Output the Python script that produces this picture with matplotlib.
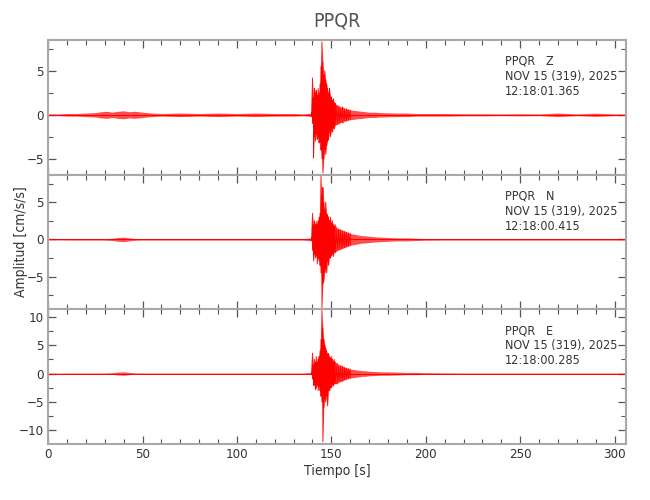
"""Three-component accelerogram for station PPQR (Z, N, E), stacked panels."""

import numpy as np
import matplotlib
matplotlib.use("Agg")
import matplotlib.pyplot as plt
from matplotlib.ticker import MultipleLocator

plt.rcParams["font.family"] = ["DejaVu Sans"]
plt.rcParams["font.stretch"] = "condensed"

STATION = "PPQR"
COMPONENTS = ["Z", "N", "E"]
DATES = ["NOV 15 (319), 2025"] * 3
START_TIMES = ["12:18:01.365", "12:18:00.415", "12:18:00.285"]

# knot times (s): quiet part before the event, the strong-motion part, coda
T_PRE = [0, 5, 10, 15, 20, 25, 28, 31, 34, 37, 40, 43, 46, 50, 55, 60, 70, 80,
         90, 100, 110, 120, 130, 135, 139.5]
T_EVENT = [140.0, 140.5, 141.0, 141.5, 142.0, 142.5, 143.0, 143.5, 144.0, 144.5,
           145.0, 145.5, 146.0, 146.5, 147.0, 147.5, 148.0, 148.5, 149.0, 149.5,
           150.0, 150.5, 151.0, 151.5, 152.0]
T_CODA = [153, 154, 155, 156, 157, 158, 159, 160, 162, 164, 166, 168, 170, 173,
          176, 180, 185, 190, 195, 200, 210, 220, 230, 240, 250, 260, 270, 280,
          290, 300, 306]

# peak amplitudes (cm/s/s)
Z_PRE = [0.1, 0.1, 0.15, 0.15, 0.2, 0.25, 0.35, 0.4, 0.3, 0.4, 0.45, 0.35, 0.4,
         0.3, 0.2, 0.15, 0.2, 0.15, 0.2, 0.15, 0.2, 0.15, 0.15, 0.1, 0.2]
Z_HI = [4.2, 2.0, 3.0, 2.5, 2.8, 2.2, 3.0, 2.4, 3.5, 5.5, 8.3, 6.0, 4.5, 5.0,
        4.0, 3.5, 3.0, 2.5, 3.0, 2.2, 2.0, 1.6, 1.8, 1.4, 1.3]
Z_LO = [-1.0, -4.9, -2.5, -3.0, -2.2, -2.8, -2.5, -3.2, -3.0, -4.0, -5.0, -6.6,
        -5.0, -4.0, -4.5, -3.5, -3.0, -2.8, -2.0, -2.5, -1.8, -2.0, -1.5, -1.6,
        -1.2]
Z_CODA = [1.1, 1.0, 0.85, 0.9, 0.7, 0.7, 0.6, 0.55, 0.5, 0.45, 0.4, 0.35, 0.3,
          0.3, 0.25, 0.22, 0.2, 0.2, 0.15, 0.15, 0.15, 0.12, 0.12, 0.1, 0.12,
          0.1, 0.2, 0.1, 0.18, 0.1, 0.1]

N_PRE = [0.08, 0.08, 0.1, 0.1, 0.1, 0.1, 0.1, 0.12, 0.15, 0.25, 0.3, 0.2, 0.12,
         0.1, 0.1, 0.1, 0.1, 0.1, 0.1, 0.1, 0.1, 0.1, 0.1, 0.1, 0.2]
N_HI = [3.5, 2.0, 2.5, 2.0, 2.4, 2.0, 2.5, 3.0, 3.5, 8.5, 6.0, 7.0, 5.0, 4.0,
        5.0, 3.5, 3.3, 3.0, 2.5, 3.0, 2.2, 2.5, 2.0, 1.8, 2.0]
N_LO = [-1.5, -2.9, -2.0, -2.5, -2.2, -3.3, -2.5, -2.8, -3.5, -4.5, -9.2, -6.0,
        -5.6, -4.5, -4.0, -4.5, -3.0, -3.5, -2.5, -2.5, -2.2, -2.0, -2.3, -1.7,
        -1.8]
N_CODA = [1.5, 1.4, 1.3, 1.2, 1.1, 1.0, 0.9, 0.8, 0.7, 0.6, 0.5, 0.48, 0.42,
          0.35, 0.3, 0.25, 0.2, 0.2, 0.15, 0.12, 0.1, 0.1, 0.1, 0.1, 0.1, 0.1,
          0.1, 0.1, 0.1, 0.1, 0.1]

E_PRE = [0.08, 0.08, 0.1, 0.1, 0.1, 0.1, 0.1, 0.12, 0.15, 0.25, 0.3, 0.2, 0.12,
         0.1, 0.1, 0.1, 0.1, 0.1, 0.1, 0.1, 0.1, 0.1, 0.1, 0.1, 0.2]
E_HI = [3.6, 1.5, 2.5, 2.0, 3.0, 2.0, 2.5, 3.0, 4.0, 6.0, 11.2, 8.0, 6.0, 5.0,
        4.5, 4.0, 3.5, 3.5, 3.0, 2.8, 3.0, 2.5, 2.2, 2.5, 2.0]
E_LO = [-1.0, -2.1, -2.0, -2.8, -2.5, -2.0, -3.0, -2.2, -3.0, -4.0, -5.0, -12.0,
        -6.0, -4.5, -5.0, -4.0, -5.7, -3.0, -3.0, -2.5, -2.5, -2.0, -2.2, -1.8,
        -1.8]
E_CODA = [1.8, 1.5, 1.4, 1.3, 1.1, 1.0, 0.9, 0.8, 0.7, 0.6, 0.5, 0.48, 0.4,
          0.35, 0.3, 0.3, 0.25, 0.2, 0.2, 0.15, 0.12, 0.1, 0.1, 0.1, 0.1, 0.1,
          0.1, 0.1, 0.1, 0.1, 0.1]

TRACES = [(Z_PRE, Z_HI, Z_LO, Z_CODA),
          (N_PRE, N_HI, N_LO, N_CODA),
          (E_PRE, E_HI, E_LO, E_CODA)]
YLIMS = [(-6.8, 8.5), (-9.4, 8.7), (-12.4, 11.3)]

GRAY = "#a8a8a8"
INK = "#333333"

fig, axes = plt.subplots(3, 1, figsize=(6.5, 5.0), dpi=100, sharex=True)
fig.subplots_adjust(left=0.074, right=0.963, top=0.92, bottom=0.112, hspace=0)

t = np.array(T_PRE + T_EVENT + T_CODA, dtype=float)
n_ev = len(T_PRE) + len(T_EVENT)
for ax, (pre, hi, lo, coda), comp, date, t0, ylim in zip(
        axes, TRACES, COMPONENTS, DATES, START_TIMES, YLIMS):
    up = np.array(pre + hi + coda)
    down = np.array([-v for v in pre] + lo + [-v for v in coda])
    # envelope of the trace, then the strong-motion swings on top
    ax.fill_between(t, down, up, color="red", alpha=0.7, lw=0)
    x = np.column_stack([t[:n_ev + 8], t[:n_ev + 8]]).ravel()
    y = np.column_stack([up[:n_ev + 8], down[:n_ev + 8]]).ravel()
    ax.plot(x[2 * len(T_PRE) - 2:], y[2 * len(T_PRE) - 2:], color="red", lw=0.6)
    ax.plot([t[0], t[-1]], [0, 0], color="red", lw=0.7)

    ax.set_xlim(0, 306)
    ax.set_ylim(*ylim)
    ax.xaxis.set_major_locator(MultipleLocator(50))
    ax.xaxis.set_minor_locator(MultipleLocator(10))
    ax.yaxis.set_major_locator(MultipleLocator(5))
    ax.yaxis.set_minor_locator(MultipleLocator(2.5))
    for s in ax.spines.values():
        s.set_color(GRAY)
        s.set_linewidth(1.5)
    ax.tick_params(which="both", direction="in", top=True, right=True,
                   color="#555555", labelcolor=INK, labelsize=9.5, pad=3)
    ax.tick_params(which="major", length=6, width=0.9)
    ax.tick_params(which="minor", length=3.5, width=0.8)

    ax.text(0.79, 0.73, f"{STATION}   {comp}\n{date}\n{t0}",
            transform=ax.transAxes, ha="left", va="center", fontsize=9,
            color=INK, linespacing=1.2)

axes[-1].set_xlabel("Tiempo [s]", fontsize=10, color=INK, labelpad=2)
axes[1].set_ylabel("Amplitud [cm/s/s]", fontsize=10, color=INK)
axes[1].yaxis.set_label_coords(-0.035, 0.5)
axes[0].set_title(STATION, fontsize=14, color="#555555", pad=10)

fig.savefig("out.png", dpi=100)
